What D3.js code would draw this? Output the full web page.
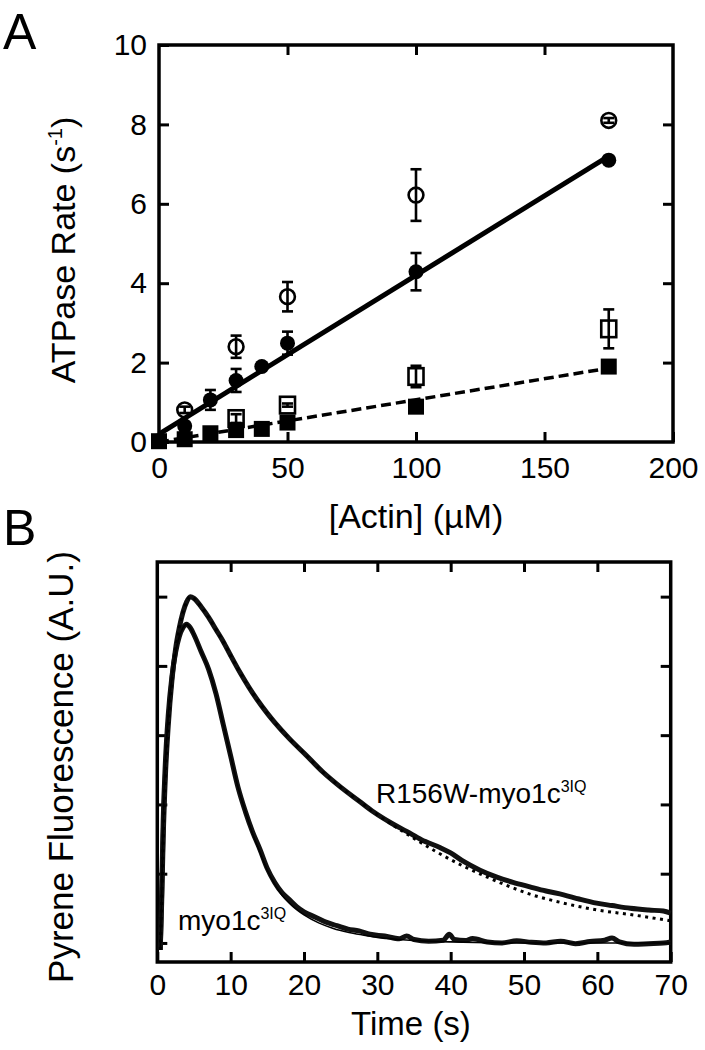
<!DOCTYPE html>
<html><head><meta charset="utf-8">
<script src="https://cdn.jsdelivr.net/npm/d3@7"></script>
<style>
body{margin:0;background:#fff}
svg text{font-family:"Liberation Sans",Arial,Helvetica,sans-serif;fill:#000}
</style>
</head><body>
<svg id="c" width="705" height="1050"></svg>
<script>
// ---------- Panel A data ----------
const filledCircleX = [0, 10, 20, 30, 40, 50, 100, 175];
const filledCircleY = [0.03, 0.40, 1.06, 1.55, 1.90, 2.49, 4.29, 7.10];
const filledCircleErr = [0, 0.10, 0.25, 0.29, 0, 0.29, 0.47, 0];
const openCircleX = [10, 30, 50, 100, 175];
const openCircleY = [0.81, 2.40, 3.66, 6.22, 8.10];
const openCircleErr = [0.08, 0.28, 0.37, 0.65, 0.06];
const filledSquareX = [0, 10, 20, 30, 40, 50, 100, 175];
const filledSquareY = [0.02, 0.07, 0.22, 0.30, 0.33, 0.49, 0.89, 1.90];
const openSquareX = [30, 50, 100, 175];
const openSquareY = [0.59, 0.93, 1.65, 2.85];
const openSquareErr = [0.11, 0.04, 0.27, 0.49];
const fitSolidX = [0, 175];
const fitSolidY = [0.2, 7.2];
const fitDashedX = [0, 175];
const fitDashedY = [0.0, 1.86];
const xTicksA = [0, 50, 100, 150, 200];
const yTicksA = [0, 2, 4, 6, 8, 10];

// ---------- Panel B data ----------
const myoT = [0.4,0.6,0.8,1.1,1.5,2.0,2.5,3.0,3.5,4.0,4.5,5.0,6.0,7.0,8.0,9.0,10,11,12,13,14,15,16,17,18,19,20,21.5,23,24.5,26,27.5,29,31,33,34,35,37,39,39.8,40.5,42,43,45,47,49,51,53,55,57,59,61,62,63,65,67,69,70];
const myoV = [-0.02,0.15,0.35,0.52,0.66,0.77,0.84,0.885,0.91,0.92,0.91,0.89,0.84,0.79,0.72,0.63,0.54,0.45,0.38,0.32,0.27,0.215,0.175,0.145,0.125,0.105,0.09,0.075,0.06,0.05,0.04,0.035,0.025,0.02,0.012,0.02,0.01,0.005,0.008,0.025,0.01,0.007,0.013,0.003,0.0,0.006,0.002,0.0,0.005,-0.002,0.004,0.008,0.014,0.003,-0.004,-0.002,0.0,0.003];
const myoFitT = [0.4,0.6,0.8,1.1,1.5,2.0,2.5,3.0,3.5,4.0,4.5,5.0,6.0,7.0,8.0,9.0,10,11,12,13,14,15,16,17,18,19,20,22,24,26,28,30,33,36,40,45,50,55,60,65,70];
const myoFitV = [-0.02,0.15,0.35,0.52,0.66,0.77,0.84,0.885,0.91,0.92,0.91,0.89,0.84,0.79,0.72,0.63,0.54,0.45,0.38,0.315,0.262,0.21,0.17,0.138,0.115,0.096,0.081,0.058,0.042,0.031,0.023,0.016,0.01,0.006,0.003,0.001,0.0,0.0,0.0,0.0,0.0];
const r156T = [0.4,0.6,0.8,1.1,1.5,2.0,2.5,3.0,3.5,4.0,4.5,5.0,6.0,7.0,8.0,9.0,10,11.3,12.5,13.6,15,16,18,20.4,22.5,25,27.5,29.5,32,34,36,38.6,40,41.7,44,46.3,48.5,50.8,53,55.4,57.5,59.9,62,64.5,67,69,70];
const r156V = [-0.02,0.12,0.30,0.48,0.63,0.76,0.85,0.91,0.955,0.985,1.0,0.995,0.97,0.94,0.905,0.87,0.83,0.78,0.738,0.703,0.663,0.637,0.59,0.54,0.495,0.45,0.41,0.378,0.345,0.322,0.298,0.275,0.26,0.236,0.21,0.19,0.175,0.162,0.15,0.139,0.127,0.115,0.108,0.10,0.095,0.092,0.086];
const r156FitT = [0.4,0.6,0.8,1.1,1.5,2.0,2.5,3.0,3.5,4.0,4.5,5.0,6.0,7.0,8.0,9.0,10,11.3,12.5,13.6,15,16,18,20.4,22.5,25,27.5,29.5,32,35,38,41.7,45,48,50.8,55.4,60,64.5,70];
const r156FitV = [-0.02,0.12,0.30,0.48,0.63,0.76,0.85,0.91,0.955,0.985,1.0,0.995,0.97,0.94,0.905,0.87,0.83,0.78,0.738,0.703,0.663,0.637,0.59,0.54,0.495,0.45,0.41,0.378,0.342,0.302,0.264,0.222,0.19,0.163,0.141,0.115,0.095,0.082,0.064];
const xTicksB = [0, 10, 20, 30, 40, 50, 60, 70];
const yTicksB = [0, 0.2, 0.4, 0.6, 0.8, 1.0];

const svg = d3.select("#c");

// ---------- Panel A ----------
const xA = d3.scaleLinear().domain([0, 200]).range([159, 673]);
const yA = d3.scaleLinear().domain([0, 10]).range([442, 45]);
const gA = svg.append("g");

function styleAxis(g, fs) {
  g.select(".domain").remove();
  g.selectAll(".tick line").attr("stroke", "#000").attr("stroke-width", 3);
  g.selectAll(".tick text").style("font-size", fs + "px").attr("fill", "#000");
}
gA.append("g").attr("transform", "translate(0,442)")
  .call(d3.axisBottom(xA).tickValues(xTicksA).tickSize(-10).tickPadding(15).tickFormat(d3.format("d")))
  .call(g => styleAxis(g, 30));
gA.append("g").attr("transform", "translate(0,45)")
  .call(d3.axisTop(xA).tickValues(xTicksA.slice(1, -1)).tickSize(-10).tickFormat(""))
  .call(g => styleAxis(g, 30));
gA.append("g").attr("transform", "translate(159,0)")
  .call(d3.axisLeft(yA).tickValues(yTicksA).tickSize(-10).tickPadding(12).tickFormat(d3.format("d")))
  .call(g => styleAxis(g, 30));
gA.append("g").attr("transform", "translate(673,0)")
  .call(d3.axisRight(yA).tickValues(yTicksA.slice(1, -1)).tickSize(-10).tickFormat(""))
  .call(g => styleAxis(g, 30));
gA.append("rect").attr("x", xA(0)).attr("y", yA(10)).attr("width", xA(200) - xA(0)).attr("height", yA(0) - yA(10))
  .attr("fill", "none").attr("stroke", "#000").attr("stroke-width", 3.5);

// fits
const lineA = d3.line().x(d => xA(d[0])).y(d => yA(d[1]));
gA.append("path").attr("d", lineA(d3.zip(fitSolidX, fitSolidY)))
  .attr("fill", "none").attr("stroke", "#000").attr("stroke-width", 5);
gA.append("path").attr("d", lineA(d3.zip(fitDashedX, fitDashedY)))
  .attr("fill", "none").attr("stroke", "#000").attr("stroke-width", 3.5).attr("stroke-dasharray", "10,5");

function errBars(xs, ys, es) {
  const g = gA.append("g").attr("stroke", "#000").attr("stroke-width", 2.6).attr("fill", "none");
  xs.forEach((x, i) => {
    if (!es[i]) return;
    const cx = xA(x), y1 = yA(ys[i] + es[i]), y2 = yA(ys[i] - es[i]);
    g.append("line").attr("x1", cx).attr("x2", cx).attr("y1", y1).attr("y2", y2);
    g.append("line").attr("x1", cx - 5.5).attr("x2", cx + 5.5).attr("y1", y1).attr("y2", y1);
    g.append("line").attr("x1", cx - 5.5).attr("x2", cx + 5.5).attr("y1", y2).attr("y2", y2);
  });
}
errBars(filledCircleX, filledCircleY, filledCircleErr);
errBars(openCircleX, openCircleY, openCircleErr);
errBars(openSquareX, openSquareY, openSquareErr);

gA.append("g").selectAll("rect").data(d3.zip(filledSquareX, filledSquareY)).join("rect")
  .attr("x", d => xA(d[0]) - 8).attr("y", d => yA(d[1]) - 8).attr("width", 16).attr("height", 16).attr("fill", "#000");
gA.append("g").selectAll("circle").data(d3.zip(filledCircleX, filledCircleY)).join("circle")
  .attr("cx", d => xA(d[0])).attr("cy", d => yA(d[1])).attr("r", 7.5).attr("fill", "#000");
gA.append("g").selectAll("circle").data(d3.zip(openCircleX, openCircleY)).join("circle")
  .attr("cx", d => xA(d[0])).attr("cy", d => yA(d[1])).attr("r", 7.4)
  .attr("fill", "none").attr("stroke", "#000").attr("stroke-width", 2.6);
gA.append("g").selectAll("rect").data(d3.zip(openSquareX, openSquareY)).join("rect")
  .attr("x", d => xA(d[0]) - 7.5).attr("y", d => yA(d[1]) - 8.3).attr("width", 15).attr("height", 16.6)
  .attr("fill", "none").attr("stroke", "#000").attr("stroke-width", 2.6);

// titles A
svg.append("text").attr("x", 3).attr("y", 49).style("font-size", "50px").text("A");
svg.append("text").attr("x", 416).attr("y", 528).attr("text-anchor", "middle").style("font-size", "34px").text("[Actin] (µM)");
const tA = svg.append("text").attr("transform", "translate(75,250) rotate(-90)").attr("text-anchor", "middle").style("font-size", "34px");
tA.append("tspan").text("ATPase Rate (s");
tA.append("tspan").attr("dy", -13).style("font-size", "20px").text("-1");
tA.append("tspan").attr("dy", 13).text(")");

// ---------- Panel B ----------
const xB = d3.scaleLinear().domain([0, 70]).range([157.3, 670.7]);
const yB = d3.scaleLinear().domain([-0.055, 1.1]).range([962, 562]);
const gB = svg.append("g");
gB.append("g").attr("transform", "translate(0,962)")
  .call(d3.axisBottom(xB).tickValues(xTicksB).tickSize(-10).tickPadding(12).tickFormat(d3.format("d")))
  .call(g => styleAxis(g, 30));
gB.append("g").attr("transform", "translate(0,562)")
  .call(d3.axisTop(xB).tickValues(xTicksB.slice(1, -1)).tickSize(-10).tickFormat(""))
  .call(g => styleAxis(g, 30));
gB.append("g").attr("transform", "translate(157.3,0)")
  .call(d3.axisLeft(yB).tickValues(yTicksB).tickSize(-10).tickFormat(""))
  .call(g => styleAxis(g, 30));
gB.append("g").attr("transform", "translate(670.7,0)")
  .call(d3.axisRight(yB).tickValues(yTicksB).tickSize(-10).tickFormat(""))
  .call(g => styleAxis(g, 30));
gB.append("rect").attr("x", xB(0)).attr("y", 562).attr("width", xB(70) - xB(0)).attr("height", 400)
  .attr("fill", "none").attr("stroke", "#000").attr("stroke-width", 3.5);

const lineB = d3.line().x(d => xB(d[0])).y(d => yB(d[1])).curve(d3.curveMonotoneX);
gB.append("path").attr("d", lineB(d3.zip(myoT, myoV))).attr("fill", "none").attr("stroke", "#111").attr("stroke-width", 5).attr("stroke-linejoin", "round");
gB.append("path").attr("d", lineB(d3.zip(r156T, r156V))).attr("fill", "none").attr("stroke", "#111").attr("stroke-width", 5).attr("stroke-linejoin", "round");
gB.append("path").attr("d", lineB(d3.zip(myoFitT, myoFitV))).attr("fill", "none").attr("stroke", "#000").attr("stroke-width", 1.6);
gB.append("path").attr("d", lineB(d3.zip(r156FitT, r156FitV))).attr("fill", "none").attr("stroke", "#000").attr("stroke-width", 3).attr("stroke-dasharray", "3,4.5");

const l1 = svg.append("text").attr("x", 376).attr("y", 803).style("font-size", "28px");
l1.append("tspan").text("R156W-myo1c");
l1.append("tspan").attr("dy", -11).style("font-size", "16px").text("3IQ");
const l2 = svg.append("text").attr("x", 178).attr("y", 930).style("font-size", "28px");
l2.append("tspan").text("myo1c");
l2.append("tspan").attr("dy", -11).style("font-size", "16px").text("3IQ");

svg.append("text").attr("x", 3).attr("y", 545).style("font-size", "50px").text("B");
svg.append("text").attr("x", 411).attr("y", 1035).attr("text-anchor", "middle").style("font-size", "33px").text("Time (s)");
svg.append("text").attr("transform", "translate(73,767) rotate(-90)").attr("text-anchor", "middle").style("font-size", "35px").text("Pyrene Fluorescence (A.U.)");
</script>
</body></html>
